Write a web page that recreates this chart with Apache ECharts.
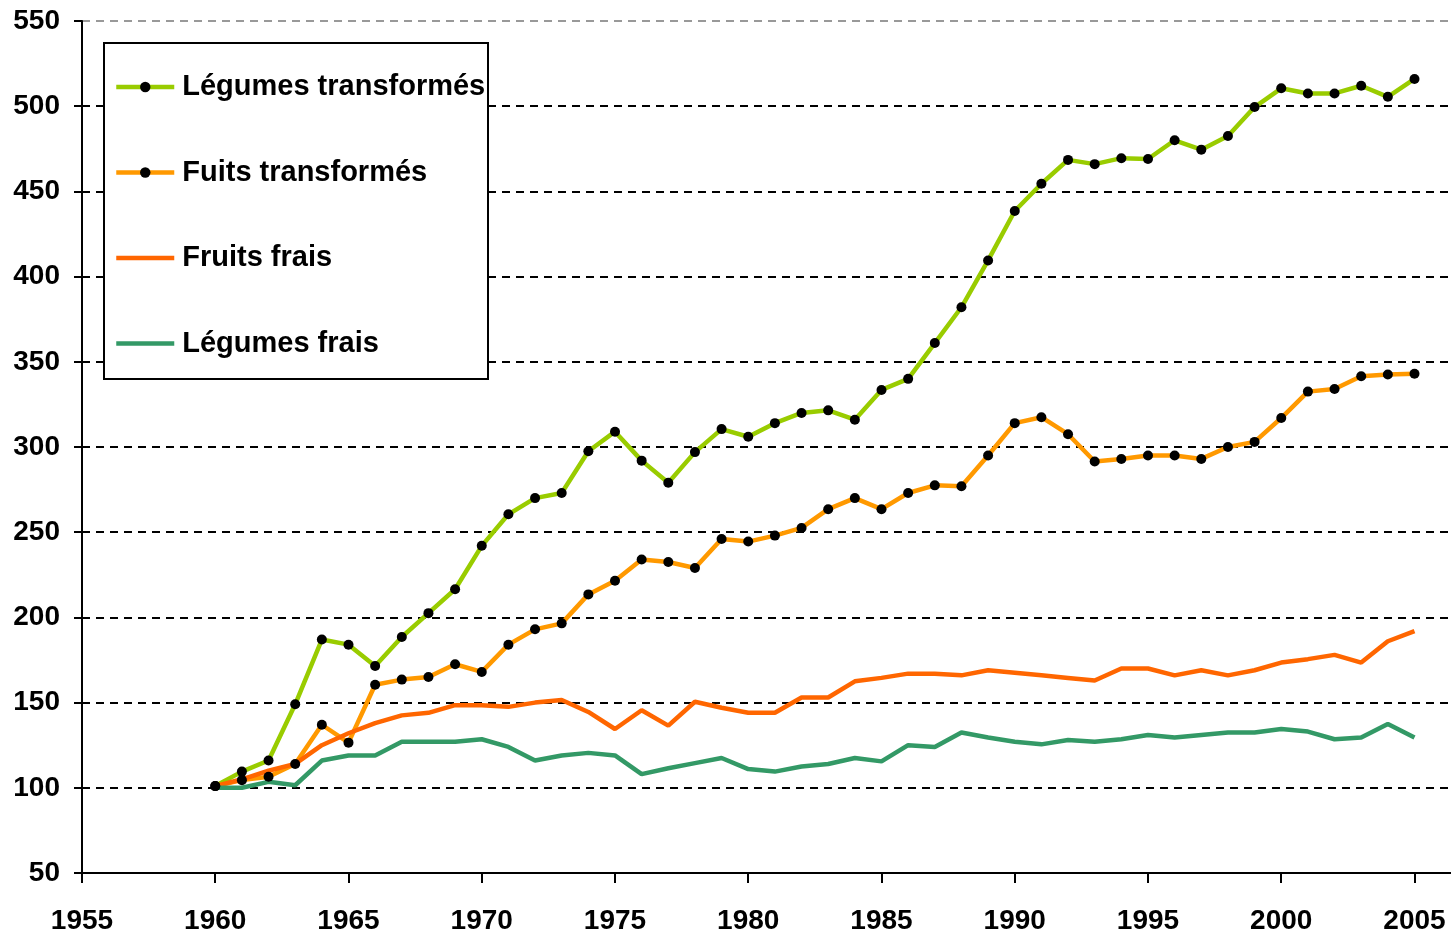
<!DOCTYPE html>
<html>
<head>
<meta charset="utf-8">
<script src="https://cdn.jsdelivr.net/npm/echarts@6/dist/echarts.min.js"></script>
<style>
html,body{margin:0;padding:0;background:#fff;}
#c{width:1451px;height:935px;}
</style>
</head>
<body>
<div id="c"></div>
<script>
var years = [];
for (var y = 1960; y <= 2005; y++) years.push(y);

var seriesNames = ['Légumes transformés', 'Fuits transformés', 'Fruits frais', 'Légumes frais'];

var legumesTransformes = [101,109.5,116,149,187,184,171.5,188.5,202.5,216.5,
  242,260.5,270,273,297.5,309,292,279,297,310.5,
  306,314,320,321.5,316,333.5,340,361,382,409.5,
  438.5,454.5,468.5,466,469.5,469,480,474.5,482.5,499.5,
  510.5,507.5,507.5,512,505.5,516];

var fruitsTransformes = [101,104.5,106.5,114,137,126.5,160.5,163.5,165,172.5,
  168,184,193,196.5,213.5,221.5,234,232.5,229,246,
  244.5,248,252.5,263.5,270,263.5,273,277.5,277,295,
  314,317.5,307.5,291.5,293,295,295,293,300,303,
  317,332.5,334,341.5,342.5,343];

var fruitsFrais = [101,105,110,114,125,132,138,142.5,144,148.5,
  148.5,147.5,150,151.5,144.5,134.5,145.5,136.5,150.5,147,
  144,144,153,153,162.5,164.5,167,167,166,169,
  167.5,166,164.5,163,170,170,166,169,166,169,
  173.5,175.5,178,173.5,186,192];

var legumesFrais = [100,100,103.5,101.5,116,119,119,127,127,127,
  128.5,124,116,119,120.5,119,108,111.5,114.5,117.5,
  111,109.5,112.5,114,117.5,115.5,125,124,132.5,129.5,
  127,125.5,128,127,128.5,131,129.5,131,132.5,132.5,
  134.5,133,128.5,129.5,137.5,129.5];

var xTickMin = 1955, xTickStep = 5;
var yTickMin = 50, yTickMax = 550, yTickStep = 50;

function pairs(vals) {
  return years.map(function (yr, i) { return [yr, vals[i]]; });
}

var FONT = '"Liberation Sans", Arial, sans-serif';
var chart = echarts.init(document.getElementById('c'), null, {renderer: 'canvas'});

var splitColors = [];
for (var v = yTickMin; v <= yTickMax; v += yTickStep) splitColors.push(v === yTickMax ? '#999999' : '#000000');

function lineSeries(name, vals, color, withSymbol) {
  return {
    name: name,
    type: 'line',
    data: pairs(vals),
    symbol: withSymbol ? 'circle' : 'none',
    showSymbol: withSymbol,
    symbolSize: 10,
    itemStyle: {color: withSymbol ? '#000000' : color},
    lineStyle: {color: color, width: 4.5},
    emphasis: {disabled: true},
    animation: false
  };
}

chart.setOption({
  backgroundColor: '#ffffff',
  animation: false,
  grid: {left: 82, right: 0, top: 21, bottom: 61, containLabel: false},
  xAxis: {
    type: 'value',
    min: xTickMin,
    max: 2006.37,
    interval: xTickStep,
    axisLine: {show: true, lineStyle: {color: '#000', width: 2}},
    axisTick: {show: true, length: 10, lineStyle: {color: '#000', width: 2}},
    axisLabel: {
      showMaxLabel: false,
      margin: 34,
      color: '#000',
      fontFamily: FONT,
      fontWeight: 'bold',
      fontSize: 28,
      formatter: function (v) { return String(v); }
    },
    splitLine: {show: false}
  },
  yAxis: {
    type: 'value',
    min: yTickMin,
    max: yTickMax,
    interval: yTickStep,
    axisLine: {show: true, lineStyle: {color: '#000', width: 2}},
    axisTick: {show: true, length: 8, lineStyle: {color: '#000', width: 2}},
    axisLabel: {
      margin: 22,
      color: '#000',
      fontFamily: FONT,
      fontWeight: 'bold',
      fontSize: 28
    },
    splitLine: {show: true, lineStyle: {color: splitColors, width: 2, type: [8, 6]}}
  },
  graphic: [{
    type: 'rect',
    left: 103,
    top: 42,
    z: 10,
    shape: {width: 384, height: 336},
    style: {fill: '#ffffff', stroke: '#000000', lineWidth: 2}
  }],
  legend: {
    orient: 'vertical',
    left: 114,
    top: 72,
    z: 20,
    padding: 0,
    itemGap: 55.5,
    itemWidth: 58,
    itemHeight: 13,
    selectedMode: false,
    lineStyle: {width: 4.5},
    textStyle: {
      color: '#000',
      fontFamily: FONT,
      fontWeight: 'bold',
      fontSize: 29,
      lineHeight: 30,
      padding: [0, 0, 0, 3]
    },
    data: [
      {name: seriesNames[0]},
      {name: seriesNames[1]},
      {name: seriesNames[2], itemStyle: {color: 'rgba(0,0,0,0)', opacity: 0}},
      {name: seriesNames[3], itemStyle: {color: 'rgba(0,0,0,0)', opacity: 0}}
    ]
  },
  series: [
    lineSeries(seriesNames[0], legumesTransformes, '#99CC00', true),
    lineSeries(seriesNames[1], fruitsTransformes, '#FF9900', true),
    lineSeries(seriesNames[2], fruitsFrais, '#FF6600', false),
    lineSeries(seriesNames[3], legumesFrais, '#339966', false)
  ]
});
</script>
</body>
</html>
